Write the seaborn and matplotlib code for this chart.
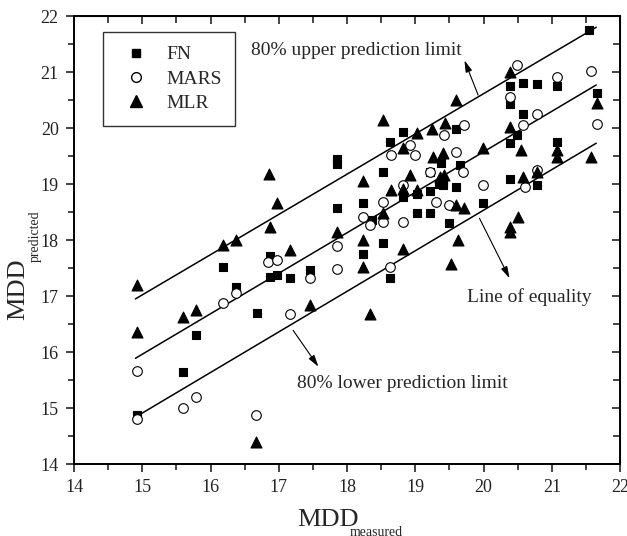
"""
MDD predicted vs measured for the FN, MARS and MLR models,
with the line of equality and 80% prediction limits
"""

import pandas as pd
import matplotlib
matplotlib.use("Agg")
import matplotlib.pyplot as plt
from matplotlib.lines import Line2D
from matplotlib.ticker import MultipleLocator
import seaborn as sns

# FN model (filled squares)
fn_x = [21.55, 20.38, 20.58, 20.78, 21.07, 20.38, 20.58, 20.49, 20.38, 19.60,
        19.65, 21.07, 21.66, 20.38, 20.78, 19.60, 19.99, 19.50, 19.41, 18.82,
        18.63, 17.85, 17.85, 18.53, 19.38, 19.21, 19.34, 19.41, 18.82, 19.02,
        19.21, 17.85, 18.24, 19.02, 19.21, 18.36, 18.53, 16.87, 18.24, 17.46,
        16.87, 16.97, 17.16, 18.63, 16.68, 16.18, 16.38, 15.79, 15.59, 14.92]
fn_y = [21.76, 20.75, 20.80, 20.79, 20.75, 20.43, 20.26, 19.88, 19.73, 19.98,
        19.35, 19.76, 20.63, 19.10, 18.98, 18.95, 18.66, 18.30, 19.04, 19.93,
        19.76, 19.45, 19.36, 19.22, 19.37, 19.22, 19.01, 18.98, 18.77, 18.83,
        18.87, 18.58, 18.66, 18.48, 18.49, 18.36, 17.94, 17.71, 17.76, 17.46,
        17.34, 17.37, 17.32, 17.32, 16.70, 17.52, 17.16, 16.30, 15.65, 14.88]

# MARS model (open circles)
mars_x = [21.58, 20.49, 21.07, 20.38, 20.78, 20.58, 19.71, 19.42, 19.60, 19.70,
          21.66, 20.78, 20.60, 19.99, 19.50, 18.92, 18.65, 18.99, 19.21, 18.82,
          18.53, 19.31, 18.24, 18.33, 18.53, 18.82, 17.85, 16.84, 16.97, 17.85,
          17.46, 18.63, 17.16, 16.38, 16.18, 14.92, 15.60, 15.79, 14.92, 16.66]
mars_y = [21.02, 21.13, 20.91, 20.55, 20.26, 20.05, 20.05, 19.88, 19.58, 19.22,
          20.07, 19.25, 18.94, 18.98, 18.62, 19.70, 19.52, 19.52, 19.22, 18.98,
          18.68, 18.68, 18.42, 18.27, 18.33, 18.33, 17.89, 17.61, 17.64, 17.49,
          17.33, 17.52, 16.68, 17.05, 16.87, 15.67, 15.01, 15.20, 14.80, 14.88]

# MLR model (filled triangles)
mlr_x = [16.85, 19.60, 18.53, 19.02, 19.24, 19.43, 18.82, 19.26, 19.41, 19.36,
         18.92, 18.24, 20.38, 20.38, 20.55, 19.99, 21.07, 21.07, 21.58, 21.66,
         20.78, 20.58, 19.60, 19.71, 19.63, 19.52, 20.50, 20.38, 20.39, 19.42,
         18.65, 18.82, 19.02, 16.97, 18.53, 16.87, 17.85, 18.24, 18.82, 17.16,
         18.24, 17.46, 18.33, 16.19, 16.38, 14.92, 15.60, 15.79, 14.92, 16.66]
mlr_y = [19.18, 20.50, 20.14, 19.91, 19.99, 20.09, 19.64, 19.49, 19.55, 19.13,
         19.16, 19.06, 21.00, 20.02, 19.61, 19.64, 19.61, 19.49, 19.49, 20.44,
         19.22, 19.13, 18.62, 18.58, 18.00, 17.58, 18.42, 18.24, 18.15, 19.16,
         18.89, 18.92, 18.89, 18.66, 18.48, 18.24, 18.15, 18.00, 17.85, 17.82,
         17.52, 16.84, 16.69, 17.91, 18.00, 17.20, 16.63, 16.75, 16.36, 14.40]

# reference lines (end points)
line_x = [14.9, 21.65]
upper_y = [16.95, 21.80]
equal_y = [15.89, 20.77]
lower_y = [14.84, 19.73]

SERIES = ["FN", "MARS", "MLR"]
FONT = "Liberation Serif"


def build_frame():
    """Long table of all points"""
    frames = [
        pd.DataFrame({"measured": fn_x, "predicted": fn_y, "model": "FN"}),
        pd.DataFrame({"measured": mars_x, "predicted": mars_y, "model": "MARS"}),
        pd.DataFrame({"measured": mlr_x, "predicted": mlr_y, "model": "MLR"}),
    ]
    return pd.concat(frames, ignore_index=True)


def main():
    sns.set_style("ticks")
    plt.rcParams["font.family"] = [FONT, "DejaVu Serif"]

    df = build_frame()

    fig = plt.figure(figsize=(6.27, 5.36), dpi=100)
    ax = fig.add_axes([0.118, 0.134, 0.871, 0.836])

    # lines first so markers sit on top
    for ys in (upper_y, equal_y, lower_y):
        sns.lineplot(x=line_x, y=ys, ax=ax, color="black", lw=1.1, zorder=1)

    styles = {
        "FN": dict(marker="s", s=34, color="black", edgecolor="black"),
        "MARS": dict(marker="o", s=48, facecolor="white", edgecolor="black"),
        "MLR": dict(marker="^", s=62, color="black", edgecolor="black"),
    }
    for name in SERIES:
        sub = df[df["model"] == name]
        sns.scatterplot(data=sub, x="measured", y="predicted", ax=ax,
                        linewidth=0.8, zorder=3, legend=False, **styles[name])

    ax.set_xlim(14, 22)
    ax.set_ylim(14, 22)
    ax.xaxis.set_major_locator(MultipleLocator(1))
    ax.yaxis.set_major_locator(MultipleLocator(1))
    ax.xaxis.set_minor_locator(MultipleLocator(0.5))
    ax.yaxis.set_minor_locator(MultipleLocator(0.5))
    ax.tick_params(which="major", direction="out", length=6, width=1.2,
                   labelsize=13, pad=5, colors="#222222")
    ax.tick_params(which="minor", direction="out", length=4, width=1.2)
    for sp in ax.spines.values():
        sp.set_visible(True)
        sp.set_linewidth(1.4)
        sp.set_color("black")
    ax.set_xlabel("")
    ax.set_ylabel("")

    # mirrored ticks on top / right pointing inwards
    top = ax.secondary_xaxis("top")
    right = ax.secondary_yaxis("right")
    for sec in (top, right):
        sec.set_ticks([14, 15, 16, 17, 18, 19, 20, 21, 22])
        sec.tick_params(which="both", direction="in", length=6, width=1.2,
                        labelleft=False, labelright=False,
                        labeltop=False, labelbottom=False)
    top.xaxis.set_minor_locator(MultipleLocator(0.5))
    right.yaxis.set_minor_locator(MultipleLocator(0.5))
    top.tick_params(which="minor", direction="in", length=5, width=1.2)
    right.tick_params(which="minor", direction="in", length=5, width=1.2)

    # axis titles with small subscripts
    ax.text(0.465, -0.125, "MDD", transform=ax.transAxes, fontsize=19,
            ha="center", va="center")
    ax.text(0.505, -0.152, "measured", transform=ax.transAxes, fontsize=10,
            ha="left", va="center")
    ax.text(-0.103, 0.39, "MDD", transform=ax.transAxes, fontsize=19,
            ha="center", va="center", rotation=90)
    ax.text(-0.071, 0.452, "predicted", transform=ax.transAxes, fontsize=10,
            ha="center", va="bottom", rotation=90)

    # annotations
    arrow = dict(arrowstyle="-|>,head_length=0.7,head_width=0.2",
                 color="black", lw=0.8, shrinkA=0, shrinkB=0)
    ax.text(16.6, 21.39, "80% upper prediction limit", fontsize=14,
            ha="left", va="center")
    ax.annotate("", xy=(19.72, 21.21), xytext=(19.92, 20.59), arrowprops=arrow)
    ax.text(19.75, 16.99, "Line of equality", fontsize=14,
            ha="left", va="center")
    ax.annotate("", xy=(20.38, 17.32), xytext=(19.94, 18.39), arrowprops=arrow)
    ax.text(17.26, 15.44, "80% lower prediction limit", fontsize=14,
            ha="left", va="center")
    ax.annotate("", xy=(17.58, 15.74), xytext=(17.21, 16.39), arrowprops=arrow)

    # legend
    handles = [
        Line2D([], [], ls="", marker="s", ms=6, mfc="black", mec="black"),
        Line2D([], [], ls="", marker="o", ms=7, mfc="white", mec="black"),
        Line2D([], [], ls="", marker="^", ms=8, mfc="black", mec="black"),
    ]
    leg = ax.legend(handles, SERIES, loc="upper left",
                    bbox_to_anchor=(0.053, 0.964), borderaxespad=0,
                    fontsize=14, frameon=True, fancybox=False,
                    handletextpad=0.55, labelspacing=0.35, borderpad=0.7,
                    handlelength=2.0)
    leg.get_frame().set_edgecolor("black")
    leg.get_frame().set_linewidth(1.0)

    fig.savefig("out.png", dpi=100)
    plt.close(fig)


if __name__ == "__main__":
    main()
